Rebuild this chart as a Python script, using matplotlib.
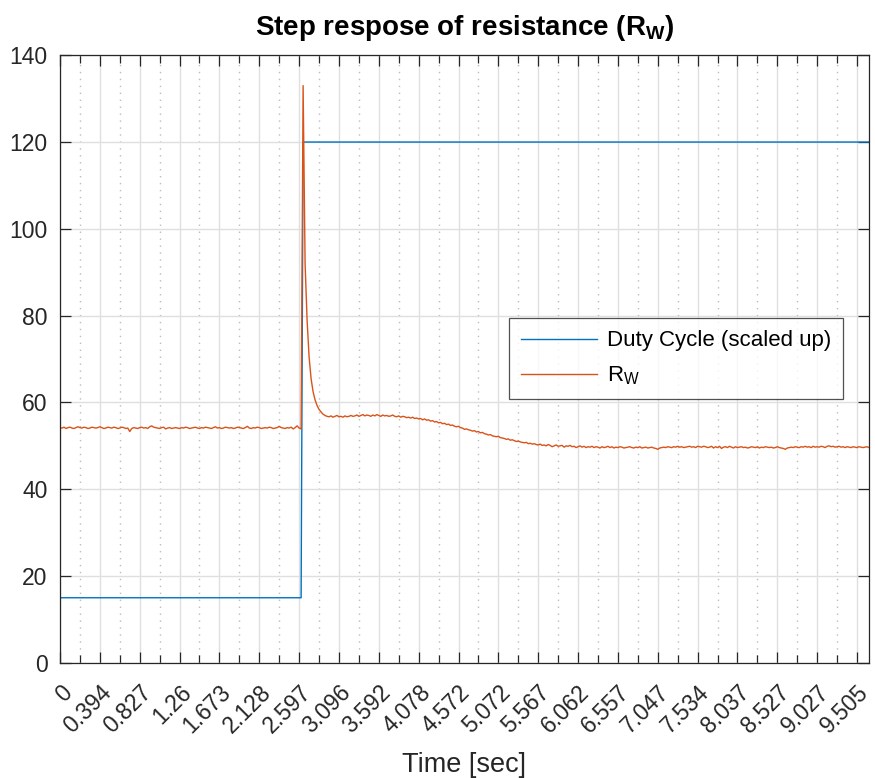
import numpy as np
import matplotlib
matplotlib.use('Agg')
import matplotlib.pyplot as plt
from matplotlib.ticker import MultipleLocator

plt.rcParams['font.family'] = ['Liberation Sans', 'DejaVu Sans']
plt.rcParams['mathtext.fontset'] = 'custom'
plt.rcParams['mathtext.rm'] = 'Liberation Sans'
plt.rcParams['mathtext.bf'] = 'Liberation Sans:bold'

## Data
# time stamps [sec] shown at every 20th sample
time_labels = ['0', '0.394', '0.827', '1.26', '1.673', '2.128', '2.597', '3.096',
               '3.592', '4.078', '4.572', '5.072', '5.567', '6.062', '6.557',
               '7.047', '7.534', '8.037', '8.527', '9.027', '9.505']
samples_per_tick = 20

# duty cycle levels (scaled up) and the sample where the step happens
duty_low = 15
duty_high = 120
step_idx = 122

# measured R_W, split by phase of the response
rw_before = [
    54.2, 54.1, 54.3, 54.0, 54.2, 54.3, 54.1, 54.0, 54.2, 54.4,
    54.2, 54.1, 54.3, 54.2, 54.0, 54.1, 54.3, 54.2, 54.1, 54.2,
    54.4, 54.2, 54.0, 54.1, 54.3, 54.2, 54.1, 54.3, 54.2, 54.0,
    54.1, 54.3, 54.2, 54.0, 54.1, 53.3, 54.0, 54.2, 54.1, 54.0,
    54.2, 54.3, 54.1, 54.2, 54.0, 54.4, 54.6, 54.3, 54.2, 54.1,
    54.0, 54.2, 54.3, 53.9, 54.1, 54.2, 54.0, 54.1, 54.2, 54.1,
    54.0, 54.2, 54.1, 54.3, 54.2, 54.0, 54.1, 54.2, 54.3, 54.1,
    54.0, 54.2, 54.1, 54.3, 54.2, 54.1, 54.0, 54.2, 54.4, 54.1,
    54.2, 54.0, 54.1, 54.3, 54.2, 54.1, 54.2, 54.0, 54.1, 54.3,
    54.2, 54.1, 54.0, 54.2, 54.5, 54.1, 54.0, 54.2, 54.1, 54.3,
    54.2, 54.0, 54.1, 54.2, 54.1, 54.3, 54.2, 54.0, 54.1, 54.2,
    54.5, 54.2, 54.1, 54.0, 54.2, 54.1, 54.3, 53.9, 54.2, 54.6,
    54.1, 53.9,
]
rw_spike = [133.0, 92.0, 79.0, 70.5, 65.5, 62.5, 60.6, 59.3, 58.4, 57.8, 57.3, 57.0, 56.8]
rw_plateau = [
    56.7, 56.9, 56.6, 56.8, 57.0, 56.7, 56.8, 56.6, 56.9, 56.7,
    56.8, 57.0, 56.8, 56.9, 57.1, 56.8, 57.0, 57.2, 56.9, 57.1,
    57.0, 56.8, 57.1, 56.9, 57.2, 57.0, 56.8, 57.1, 56.9, 57.0,
    56.8, 56.9, 57.1, 56.8, 56.7, 56.9, 56.6, 56.8, 56.7, 56.5,
    56.6,
]
rw_decline = [
    56.4, 56.6, 56.3, 56.4, 56.2, 56.3, 56.0, 56.2, 55.9, 56.0,
    55.7, 55.8, 55.5, 55.6, 55.3, 55.4, 55.1, 55.2, 54.9, 55.0,
    54.7, 54.8, 54.5, 54.4, 54.5, 54.2, 54.1, 53.8, 53.9, 53.7,
    53.6, 53.4, 53.5, 53.2, 53.3, 53.0, 53.1, 52.8, 52.7, 52.5,
    52.6, 52.3, 52.2, 52.1, 52.2, 51.9, 51.8, 51.7, 51.5, 51.6,
    51.3, 51.4, 51.2, 51.0, 51.1, 50.9, 50.8, 50.7, 50.8, 50.5,
    50.6, 50.4, 50.5, 50.3, 50.2, 50.4, 50.1, 50.2, 50.0, 50.3,
    50.1, 49.8, 50.0, 50.2, 49.9, 50.0, 50.1, 49.7, 50.0, 49.9,
    50.1, 49.8, 49.9, 49.6, 49.8, 50.0, 49.7, 49.9, 49.6, 49.8,
]
rw_tail = [
    49.7, 49.9, 49.6, 49.8, 49.7, 49.5, 49.8, 49.6, 49.7, 49.9,
    49.6, 49.8, 49.5, 49.7, 49.6, 49.8, 49.7, 49.5, 49.6, 49.7,
    49.8, 49.6, 49.5, 49.7, 49.6, 49.8, 49.5, 49.6, 49.7, 49.5,
    49.6, 49.7, 49.5, 49.4, 49.2, 49.5, 49.6, 49.7, 49.6, 49.8,
    49.7, 49.6, 49.8, 49.7, 49.9, 49.7, 49.8, 49.6, 49.7, 49.8,
    49.9, 49.7, 49.8, 49.6, 49.9, 49.8, 49.7, 49.9, 49.8, 49.6,
    49.7, 49.9, 49.5, 49.8, 49.6, 49.9, 49.4, 49.7, 49.8, 49.6,
    49.9, 49.7, 49.5, 49.8, 49.6, 49.7, 49.8, 49.6, 49.7, 49.5,
    49.6, 49.8, 49.7, 49.6, 49.8, 49.5, 49.7, 49.6, 49.8, 49.7,
    49.6, 49.7, 49.5, 49.6, 49.8, 49.6, 49.5, 49.4, 49.2, 49.5,
    49.6, 49.7, 49.6, 49.8, 49.7, 49.6, 49.8, 49.7, 49.9, 49.7,
    49.8, 49.6, 49.9, 49.7, 49.8, 49.7, 49.9, 49.8, 49.6, 49.9,
    50.0, 49.8, 49.9, 49.7, 49.8, 49.9, 49.7, 49.8, 49.6, 49.8,
    49.7, 49.6, 49.8, 49.7, 49.6, 49.8, 49.7, 49.6, 49.7, 49.8,
    49.6,
]

rw = np.array(rw_before + rw_spike + rw_plateau + rw_decline + rw_tail)
n = len(rw)
idx = np.arange(n)
duty = np.where(idx < step_idx, duty_low, duty_high)

## Plot
fig = plt.figure(figsize=(8.75, 7.78), dpi=100)
ax = fig.add_axes([0.0686, 0.148, 0.9245, 0.781])

ax.plot(idx, duty, color='#0072BD', lw=1.0, label='Duty Cycle (scaled up)')
ax.plot(idx, rw, color='#D95319', lw=1.0, label=r'$\mathrm{R_W}$')

axis_col = '#262626'
tick_fs = 16.5

ax.set_xlim(0, n - 1)
ax.set_ylim(0, 140)
ax.set_yticks(np.arange(0, 141, 20))
ax.xaxis.set_minor_locator(MultipleLocator(samples_per_tick // 2))

ax.tick_params(which='both', direction='in', top=True, right=True, color=axis_col,
               labelcolor=axis_col, width=0.9)
ax.tick_params(which='major', length=8, labelsize=tick_fs)
ax.tick_params(which='minor', length=6)
ax.tick_params(axis='x', which='major', pad=13)
ax.tick_params(axis='y', which='major', pad=9)

# labels are times at the tick samples, so they are set by hand
ax.set_xticks(np.arange(len(time_labels)) * samples_per_tick)
ax.set_xticklabels(time_labels, rotation=45, ha='right', va='top', rotation_mode='anchor',
                   fontsize=tick_fs, color=axis_col)

for s in ax.spines.values():
    s.set_color(axis_col)
    s.set_linewidth(0.9)

ax.set_axisbelow(True)
ax.grid(which='major', color='#dfdfdf', lw=1.0)
ax.grid(which='minor', axis='x', color='#bcbcbc', lw=1.0, ls=(0, (1, 4)))

ax.set_title(r'Step respose of resistance ($\mathbf{R_W}$)', fontsize=20, fontweight='bold', pad=14.5)
ax.set_xlabel('Time [sec]', fontsize=19.5, color=axis_col, labelpad=10)

leg = ax.legend(loc='upper right', bbox_to_anchor=(0.968, 0.5674), borderaxespad=0,
                fontsize=16, frameon=True, fancybox=False, edgecolor=axis_col,
                handlelength=3.4, handletextpad=0.45, labelspacing=0.6, borderpad=0.55)
leg.get_frame().set_linewidth(0.9)

fig.savefig('out.png', dpi=100)
